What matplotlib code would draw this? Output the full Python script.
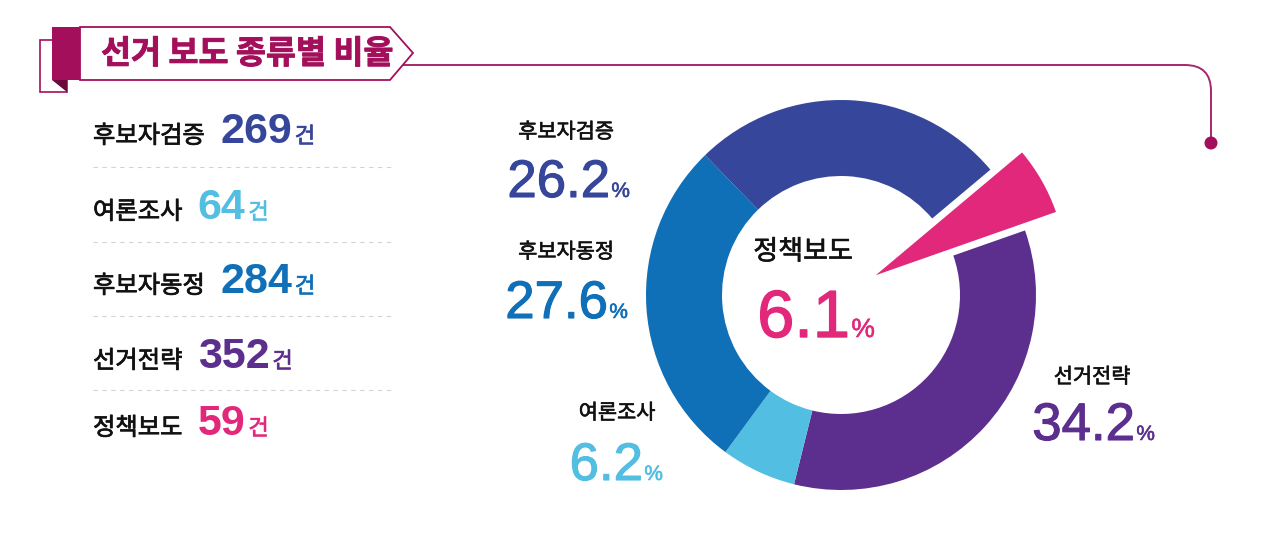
import matplotlib
matplotlib.use("Agg")
import matplotlib.pyplot as plt
import matplotlib.patheffects as pe
from matplotlib.patches import Polygon, Circle, PathPatch
from matplotlib.path import Path as MPath

W, H = 1280, 539
KR = ["Noto Sans CJK KR", "DejaVu Sans"]
NUM = ["Liberation Sans", "DejaVu Sans"]
MAGENTA = "#A30F5B"
INK = "#111111"

# ── data ────────────────────────────────────────────────────────────────
categories = ["후보자검증", "여론조사", "후보자동정", "선거전략", "정책보도"]
counts = [269, 64, 284, 352, 59]
pct_labels = ["26.2", "6.2", "27.6", "34.2", "6.1"]
colors = ["#36469A", "#52BEE2", "#0F6FB7", "#5C2F8E", "#E2287A"]
unit = "건"
title = "선거 보도 종류별 비율"

# ring order, going clockwise from the pulled-out slice
ring_order = [4, 3, 1, 2, 0]
HIGHLIGHT = 4


def heavier(color, w=0.9):
    # fake a medium weight by stroking the glyphs in their own colour
    return [pe.withStroke(linewidth=w, foreground=color)]


fig = plt.figure(figsize=(W / 100, H / 100), dpi=100)
ax = fig.add_axes([0, 0, 1, 1])

# ── donut ───────────────────────────────────────────────────────────────
CX, CY, R = 841, 295, 195
vals = [counts[i] for i in ring_order]
ring_cols = [colors[i] if i != HIGHLIGHT else "none" for i in ring_order]
# y axis is flipped later, so counterclockwise in data reads clockwise on screen
ax.pie(vals, colors=ring_cols, startangle=-40, counterclock=True,
       radius=R, center=(CX, CY),
       wedgeprops=dict(width=76, linewidth=0))
hl_cols = [colors[i] if i == HIGHLIGHT else "none" for i in ring_order]
explode = [40 if i == HIGHLIGHT else 0 for i in ring_order]
ax.pie(vals, colors=hl_cols, startangle=-40, counterclock=True,
       radius=R - 4, center=(CX, CY), explode=explode,
       wedgeprops=dict(linewidth=0))

ax.set_xlim(0, W)
ax.set_ylim(H, 0)
ax.axis("off")

# donut labels: (label centre), (right edge of number, baseline)
label_xy = {0: (566, 132), 2: (566, 252), 1: (617, 413), 3: (1092, 377), 4: (803, 252)}
pct_xy = {0: (610, 197), 2: (608, 318), 1: (643, 480), 3: (1135, 440), 4: (850, 337)}
for i, cat in enumerate(categories):
    big = i == HIGHLIGHT
    lx, ly = label_xy[i]
    ax.text(lx, ly, cat, ha="center", va="center", family=KR,
            fontsize=19.5 if big else 15, color=INK,
            path_effects=heavier(INK, 0.45))
    px, py = pct_xy[i]
    t = ax.text(px, py, pct_labels[i], ha="right", va="baseline", family=NUM,
                fontsize=48 if big else 38, color=colors[i],
                path_effects=heavier(colors[i], 1.0 if big else 0.8))
    ax.annotate("%", xy=(1, py), xycoords=(t, "data"), xytext=(1, 0),
                textcoords="offset points", ha="left", va="baseline",
                family=NUM, fontsize=19 if big else 15, color=colors[i],
                path_effects=heavier(colors[i], 0.4))

# ── left list ───────────────────────────────────────────────────────────
row_base = [143, 219, 293, 368, 435]
for i, cat in enumerate(categories):
    y = row_base[i]
    lab = ax.text(93, y, cat, ha="left", va="baseline", family=KR,
                  fontsize=17.5, color=INK, path_effects=heavier(INK, 0.55))
    num = ax.annotate(str(counts[i]), xy=(1, y), xycoords=(lab, "data"),
                      xytext=(11, 0), textcoords="offset points",
                      ha="left", va="baseline", family=NUM, fontsize=31,
                      fontweight="bold", color=colors[i])
    ax.annotate(unit, xy=(1, y), xycoords=(num, "data"), xytext=(2, 0),
                textcoords="offset points", ha="left", va="baseline",
                family=KR, fontsize=16, color=colors[i],
                path_effects=heavier(colors[i], 0.5))
for y in [167, 242, 316, 390]:
    ax.plot([93, 392], [y, y], ls=(0, (4, 4)), color="#d4d4d4", lw=0.8)

# ── header ribbon ───────────────────────────────────────────────────────
ax.add_patch(Polygon([(40, 40), (67, 40), (67, 92), (40, 92)], closed=True,
                     facecolor="white", edgecolor=MAGENTA, lw=1.2, zorder=3))
ax.add_patch(Polygon([(52, 80), (67, 80), (67, 92)], closed=True,
                     facecolor="#6B0A3C", edgecolor="none", zorder=4))
ax.add_patch(Polygon([(52, 27), (80, 27), (80, 80), (52, 80)], closed=True,
                     facecolor=MAGENTA, edgecolor="none", zorder=4))
ax.add_patch(Polygon([(80, 27), (390, 27), (413, 53), (390, 80), (80, 80)],
                     closed=True, facecolor="white", edgecolor=MAGENTA,
                     lw=1.3, zorder=4))
ax.text(101, 54, title, ha="left", va="center", family=KR, fontsize=23.5,
        fontweight="bold", color=MAGENTA, zorder=5,
        path_effects=heavier(MAGENTA, 0.6))

verts = [(403, 65), (1185, 65), (1211, 65), (1211, 91), (1211, 143)]
codes = [MPath.MOVETO, MPath.LINETO, MPath.CURVE3, MPath.CURVE3, MPath.LINETO]
ax.add_patch(PathPatch(MPath(verts, codes), facecolor="none",
                       edgecolor="#A8266A", lw=1.4, zorder=3))
ax.add_patch(Circle((1211, 143), 6.5, facecolor=MAGENTA, edgecolor="none", zorder=4))

fig.savefig("out.png", dpi=100, facecolor="white")
